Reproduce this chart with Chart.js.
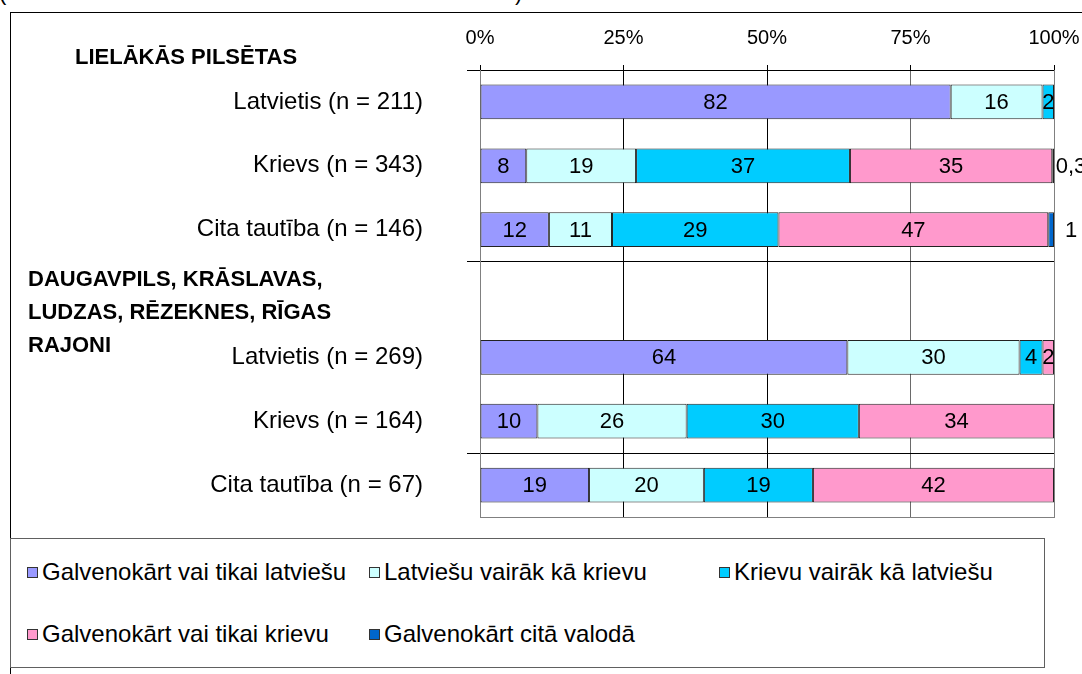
<!DOCTYPE html>
<html><head><meta charset="utf-8">
<script src="https://cdn.jsdelivr.net/npm/chart.js@4.4.1/dist/chart.umd.min.js"></script>
<style>
html,body{margin:0;padding:0;background:#fff;overflow:hidden;}
#wrap{position:relative;width:1082px;height:674px;overflow:hidden;font-family:"Liberation Sans",Arial,sans-serif;color:#000;}
#c{position:absolute;left:0;top:0;}
.frame{position:absolute;left:10px;top:12px;width:1200px;height:800px;border-left:1px solid #000;border-top:1px solid #000;box-sizing:border-box;}
.paren{position:absolute;top:-19px;font-size:22px;line-height:24px;}
.gt{position:absolute;font-weight:bold;font-size:22px;line-height:33px;white-space:pre;}
#legend{position:absolute;left:10px;top:538px;width:1035px;height:130px;border:1px solid #606060;box-sizing:border-box;background:#fff;}
.li{position:absolute;height:30px;line-height:30px;font-size:24px;white-space:nowrap;}
.li i{position:absolute;left:0;top:10px;width:11px;height:11px;border:1px solid #333;box-sizing:border-box;}
.li span{position:absolute;left:15px;top:0;}
</style></head>
<body>
<div id="wrap">
  <div class="paren" style="left:-1px">(</div>
  <div class="paren" style="left:515px">)</div>
  <div class="frame"></div>
  <canvas id="c" width="1082" height="674"></canvas>
  <div class="gt" id="g0" style="left:75px;top:40px;"></div>
  <div class="gt" id="g1" style="left:28px;top:262px;"></div>
  <div id="legend"></div>
</div>
<script>
const categories = ['Latvietis (n = 211)','Krievs (n = 343)','Cita tautība (n = 146)','','Latvietis (n = 269)','Krievs (n = 164)','Cita tautība (n = 67)'];
const groupTitles = ['LIELĀKĀS PILSĒTAS','DAUGAVPILS, KRĀSLAVAS,\nLUDZAS, RĒZEKNES, RĪGAS\nRAJONI'];
const seriesNames = ['Galvenokārt vai tikai latviešu','Latviešu vairāk kā krievu','Krievu vairāk kā latviešu','Galvenokārt vai tikai krievu','Galvenokārt citā valodā'];
const mainlyLatvian = [82, 8, 12, null, 64, 10, 19];
const moreLatvian   = [16, 19, 11, null, 30, 26, 20];
const moreRussian   = [2, 37, 29, null, 4, 30, 19];
const mainlyRussian = [0, 35, 47, null, 2, 34, 42];
const otherLanguage = [0, 0.3, 1, null, 0, 0, 0];
const xTickValues = [0, 25, 50, 75, 100];
const seriesColors = ['#9999FF','#CCFFFF','#00CCFF','#FF99CC','#0066CC'];

const seriesValues = [mainlyLatvian, moreLatvian, moreRussian, mainlyRussian, otherLanguage];
const rowSums = categories.map((_, i) => seriesValues.reduce((s, a) => s + (a[i] || 0), 0));
const datasets = seriesValues.map((arr, k) => ({
  label: seriesNames[k],
  raw: arr,
  data: arr.map((v, i) => v === null || rowSums[i] === 0 ? null : v / rowSums[i] * 100),
  backgroundColor: seriesColors[k],
  borderColor: '#222',
  borderWidth: 1,
  borderSkipped: false,
  categoryPercentage: 1,
  barPercentage: 0.545
}));

document.getElementById('g0').textContent = groupTitles[0];
document.getElementById('g1').textContent = groupTitles[1];

const legendEl = document.getElementById('legend');
const legendPos = [[16,18],[358,18],[708,18],[16,80],[358,80]];
seriesNames.forEach((n, k) => {
  const d = document.createElement('div');
  d.className = 'li';
  d.style.left = legendPos[k][0] + 'px';
  d.style.top = legendPos[k][1] + 'px';
  d.innerHTML = '<i style="background:' + seriesColors[k] + '"></i><span></span>';
  d.querySelector('span').textContent = n;
  legendEl.appendChild(d);
});

const plotFrame = {
  id: 'plotFrame',
  beforeDraw(chart) {
    const a = chart.chartArea, c = chart.ctx;
    c.save();
    c.strokeStyle = '#808080';
    c.lineWidth = 1;
    c.strokeRect(Math.round(a.left) + 0.5, Math.round(a.top) + 0.5, Math.round(a.right - a.left), Math.round(a.bottom - a.top));
    c.restore();
  }
};

const valueLabels = {
  id: 'valueLabels',
  afterDatasetsDraw(chart) {
    const c = chart.ctx;
    c.save();
    c.font = '22px "Liberation Sans", Arial, sans-serif';
    c.fillStyle = '#000';
    c.textBaseline = 'middle';
    c.textAlign = 'center';
    chart.data.datasets.forEach((ds, di) => {
      const meta = chart.getDatasetMeta(di);
      meta.data.forEach((el, i) => {
        const raw = ds.raw[i];
        if (!raw) return;
        const txt = String(raw).replace('.', ',');
        if (di === 4) {
          c.fillText(txt, el.x + 17, el.y + 1);
        } else {
          c.fillText(txt, (el.x + el.base) / 2, el.y + 1);
        }
      });
    });
    c.restore();
  }
};

const sepIdx = [0, 3, 6];
const xGridColors = ['#808080', '#000', '#000', '#6a6a6a', '#808080'];
new Chart(document.getElementById('c'), {
  type: 'bar',
  data: { labels: categories, datasets },
  plugins: [plotFrame, valueLabels],
  options: {
    indexAxis: 'y',
    responsive: false,
    animation: false,
    devicePixelRatio: 1,
    layout: { padding: { left: 0, right: 28, top: 0, bottom: 157 } },
    plugins: { legend: { display: false }, tooltip: { enabled: false } },
    scales: {
      x: {
        position: 'top',
        stacked: true,
        min: 0, max: 100,
        afterBuildTicks(s) { s.ticks = xTickValues.map(v => ({ value: v })); },
        afterFit(s) { s.height = 70; s.paddingLeft = 0; s.paddingRight = 0; },
        ticks: {
          callback: v => v + '%',
          color: '#000',
          padding: 15,
          maxRotation: 0,
          font: { family: '"Liberation Sans", Arial, sans-serif', size: 20 }
        },
        grid: {
          color: ctx => xGridColors[ctx.index] || '#000',
          tickColor: '#000',
          tickLength: 5
        },
        border: { display: false }
      },
      y: {
        stacked: true,
        offset: true,
        afterFit(s) { s.width = 480; s.paddingTop = 0; s.paddingBottom = 0; },
        ticks: {
          color: '#000',
          padding: 44,
          font: { family: '"Liberation Sans", Arial, sans-serif', size: 24 }
        },
        grid: {
          offset: true,
          color: ctx => sepIdx.includes(ctx.index) ? '#000' : 'rgba(0,0,0,0)',
          tickColor: ctx => sepIdx.includes(ctx.index) ? '#000' : 'rgba(0,0,0,0)',
          tickLength: 13
        },
        border: { display: true, color: '#808080' }
      }
    }
  }
});
</script>
</body></html>
